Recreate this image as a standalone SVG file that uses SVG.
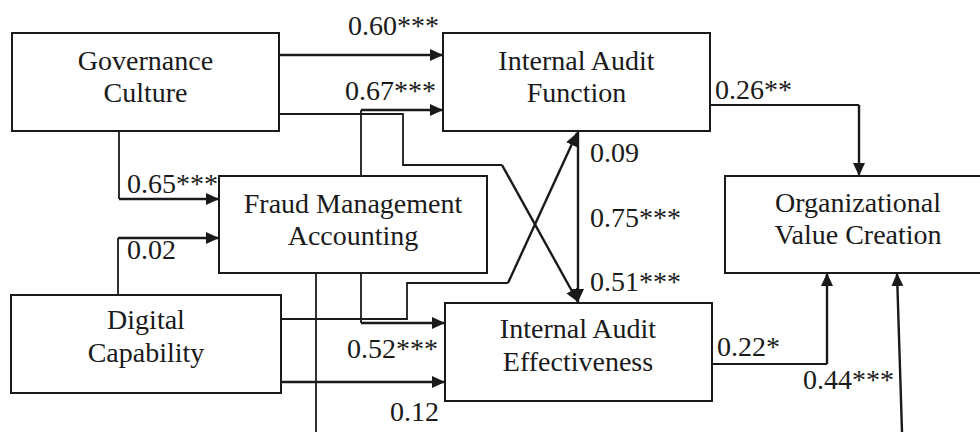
<svg xmlns="http://www.w3.org/2000/svg" width="980" height="432" viewBox="0 0 980 432">
<style>
  .box{fill:#fff;stroke:#1a1a1a;stroke-width:2}
  text{font-family:'Liberation Serif',Tinos,'Times New Roman',Times,'Noto Serif','DejaVu Serif',serif;font-size:28px;fill:#1a1a1a}
  .c{text-anchor:middle}
  .ln{fill:none;stroke:#1a1a1a;stroke-width:1.8}
  .ar{fill:none;stroke:#1a1a1a;stroke-width:2.4;marker-end:url(#ah)}
</style>
<defs>
  <marker id="ah" markerUnits="userSpaceOnUse" markerWidth="14" markerHeight="14" refX="13" refY="6" orient="auto" viewBox="0 0 14 12">
    <path d="M0,0 L13,6 L0,12 Z" fill="#1a1a1a"/>
  </marker>
</defs>
<rect width="980" height="432" fill="#fff"/>
<g id="connectors">
  <path class="ar" d="M279,55 H443"/>
  <path class="ln" d="M361,176 V110"/>
  <path class="ar" d="M361,110 H443"/>
  <path class="ln" d="M279,114 H403 V165 H502"/>
  <path class="ar" d="M502,165 L578,302"/>
  <path class="ln" d="M119,131 V199"/>
  <path class="ar" d="M119,199 H219"/>
  <path class="ln" d="M118,295 V238"/>
  <path class="ar" d="M118,238 H219"/>
  <path class="ln" d="M281,319 H407 V283 H508"/>
  <path class="ar" d="M508,283 L577,133"/>
  <path class="ln" d="M361,273 V323"/>
  <path class="ar" d="M361,323 H445"/>
  <path class="ar" d="M281,382 H445"/>
  <path class="ar" d="M578,131 V302"/>
  <path class="ln" d="M710,105 H859"/>
  <path class="ar" d="M859,105 V176"/>
  <path class="ln" d="M712,364 H827"/>
  <path class="ar" d="M827,364 V273"/>
  <path class="ln" d="M316,273 V432"/>
  <path class="ar" d="M902,432 L897,273"/>
</g>
<g id="labels">
  <text x="348" y="35">0.60***</text>
  <text x="345" y="100">0.67***</text>
  <text x="127" y="193">0.65***</text>
  <text x="127" y="259">0.02</text>
  <text x="347" y="358">0.52***</text>
  <text x="390" y="421">0.12</text>
  <text x="715" y="99">0.26**</text>
  <text x="717" y="356">0.22*</text>
  <text x="803" y="389">0.44***</text>
  <text x="590" y="162">0.09</text>
  <text x="590" y="227">0.75***</text>
  <text x="590" y="291">0.51***</text>
</g>
<g id="gc">
  <rect class="box" x="12" y="33" width="267" height="98"/>
  <text class="c" x="145.5" y="70">Governance</text>
  <text class="c" x="145.5" y="102">Culture</text>
</g>
<g id="iaf">
  <rect class="box" x="443" y="33" width="267" height="98"/>
  <text class="c" x="576.5" y="70">Internal Audit</text>
  <text class="c" x="576.5" y="102">Function</text>
</g>
<g id="fma">
  <rect class="box" x="219" y="176" width="268" height="97"/>
  <text class="c" x="353" y="213">Fraud Management</text>
  <text class="c" x="353" y="245">Accounting</text>
</g>
<g id="dc">
  <rect class="box" x="11" y="295" width="270" height="98"/>
  <text class="c" x="146" y="329">Digital</text>
  <text class="c" x="146" y="362">Capability</text>
</g>
<g id="iae">
  <rect class="box" x="445" y="303" width="267" height="98"/>
  <text class="c" x="578" y="338">Internal Audit</text>
  <text class="c" x="578" y="371">Effectiveness</text>
</g>
<g id="ovc">
  <rect class="box" x="725" y="176" width="266" height="97"/>
  <text class="c" x="858" y="212">Organizational</text>
  <text class="c" x="858" y="244">Value Creation</text>
</g>
</svg>
